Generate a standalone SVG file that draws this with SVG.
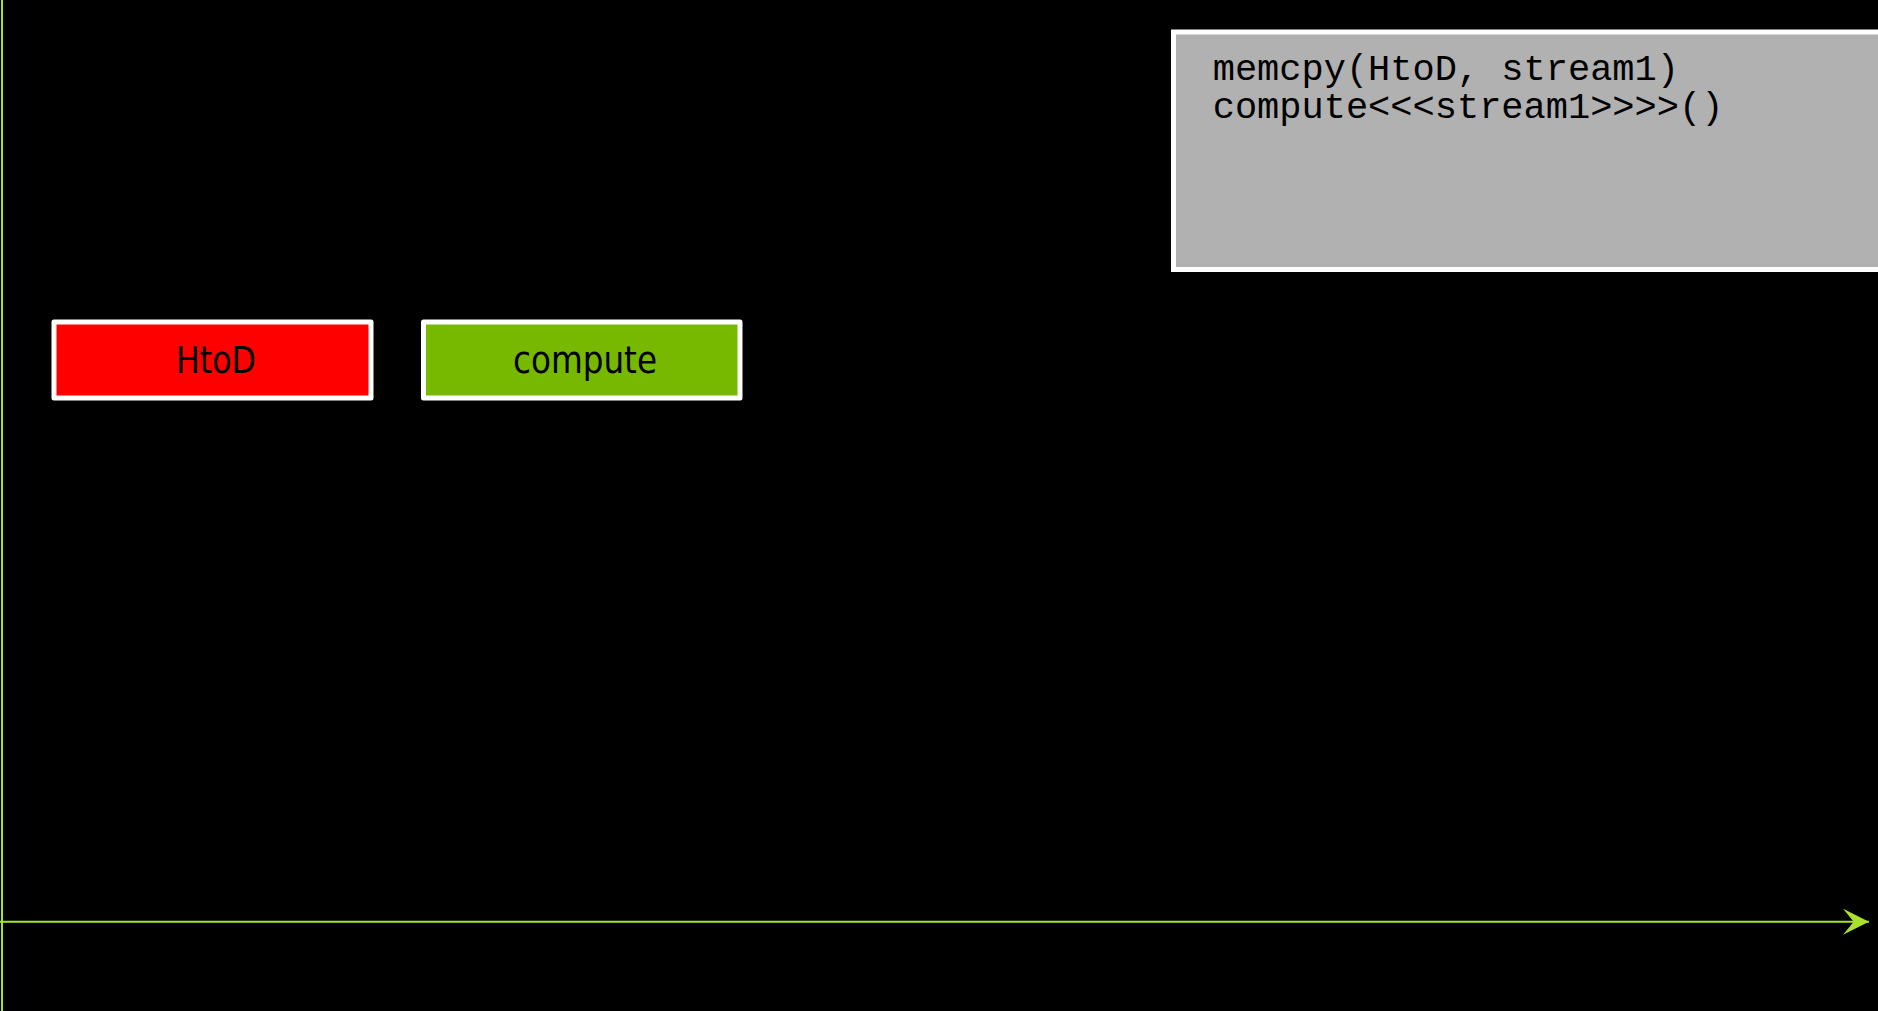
<svg xmlns="http://www.w3.org/2000/svg" width="1878" height="1011" viewBox="0 0 1878 1011">
  <style>
    .bg { fill: #000000; }
    .axis { stroke: #a8e22c; stroke-width: 2; fill: none; }
    .op { stroke: #ffffff; stroke-width: 5; stroke-linejoin: round; }
    .op-label { font-family: "DejaVu Sans", "Verdana", sans-serif; font-size: 38px; fill: #000000; text-anchor: middle; }
    .code-box { fill: #b1b1b1; stroke: #ffffff; stroke-width: 5; }
    .code { font-family: "Liberation Mono", "Courier New", monospace; font-size: 37px; fill: #000000; }
  </style>
  <defs>
    <marker id="axis-head" markerUnits="userSpaceOnUse" viewBox="0 0 26 26" markerWidth="26" markerHeight="26" refX="26" refY="13" orient="auto">
      <path d="M0,0 L26,13 L0,26 L10.7,13 Z" fill="#a8e22c"/>
    </marker>
  </defs>

  <rect class="bg" x="0" y="0" width="1878" height="1011"/>

  <!-- time axes -->
  <g id="connectors">
    <line class="axis" x1="2" y1="0" x2="2" y2="1011"/>
    <line class="axis" x1="0" y1="921.7" x2="1869" y2="921.7" marker-end="url(#axis-head)"/>
  </g>

  <!-- source listing -->
  <g id="code-listing">
    <rect class="code-box" x="1173.5" y="32" width="720" height="237.5"/>
    <text class="code" x="1212.7" y="80">memcpy(HtoD, stream1)<tspan x="1212.7" y="117.5">compute&lt;&lt;&lt;stream1&gt;&gt;&gt;&gt;()</tspan></text>
  </g>

  <!-- operations on the timeline -->
  <g id="htod">
    <rect class="op" x="54" y="322" width="317" height="76" fill="#ff0000"/>
    <text class="op-label" x="216" y="373.3" textLength="80" lengthAdjust="spacingAndGlyphs">HtoD</text>
  </g>
  <g id="compute">
    <rect class="op" x="423.5" y="322" width="316.5" height="76" fill="#76b900"/>
    <text class="op-label" x="585" y="373.3" textLength="144" lengthAdjust="spacingAndGlyphs">compute</text>
  </g>
</svg>
